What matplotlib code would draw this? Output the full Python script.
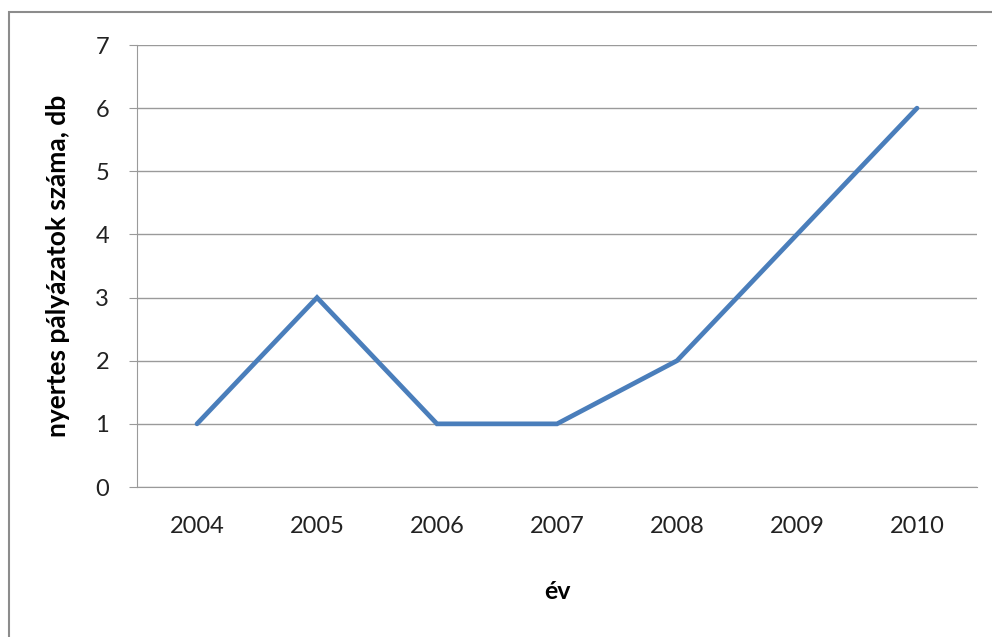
# Nyertes pályázatok száma évenként
import matplotlib
matplotlib.use("Agg")
import matplotlib.pyplot as plt
from matplotlib.patches import Rectangle

# adatok
evek = ["2004", "2005", "2006", "2007", "2008", "2009", "2010"]
palyazatok = [1, 3, 1, 1, 2, 4, 6]

plt.rcParams['font.family'] = ['Lato', 'DejaVu Sans']

fig = plt.figure(figsize=(9.92, 6.37), dpi=100)
fig.patch.set_facecolor("white")

# keret a diagram körül (jobb és alsó széle kilóg a képből)
fig.patches.append(Rectangle((9 / 992, -0.05), 1.05, 1.05 - 12 / 637,
                             transform=fig.transFigure, fill=False,
                             edgecolor="#8c8c8c", linewidth=1.5))

ax = fig.add_axes([137 / 992, 150 / 637, 840 / 992, 442 / 637])
x = range(len(evek))
ax.plot(x, palyazatok, color="#4a7ebb", linewidth=3.4,
        solid_joinstyle="miter", solid_capstyle="round")

ax.set_xlim(-0.5, len(evek) - 0.5)
ax.set_ylim(0, 7)
ax.set_yticks(range(0, 8))
ax.set_xticks(list(x))
ax.set_xticklabels(evek)
ax.grid(axis="y", color="#9a9a9a", linewidth=1)
ax.set_axisbelow(True)

for s in ["top", "right"]:
    ax.spines[s].set_visible(False)
ax.spines["left"].set_color("#9a9a9a")
ax.spines["bottom"].set_color("#9a9a9a")
ax.tick_params(axis="y", length=6, color="#9a9a9a", labelsize=17, pad=14, labelcolor="#222222")
ax.tick_params(axis="x", length=0, labelsize=17, pad=21, labelcolor="#222222")

ax.set_ylabel("nyertes pályázatok száma, db", fontsize=19, fontweight="bold", labelpad=18)
ax.set_xlabel("év", fontsize=18, fontweight="bold", labelpad=31)

plt.savefig("out.png", dpi=100)
